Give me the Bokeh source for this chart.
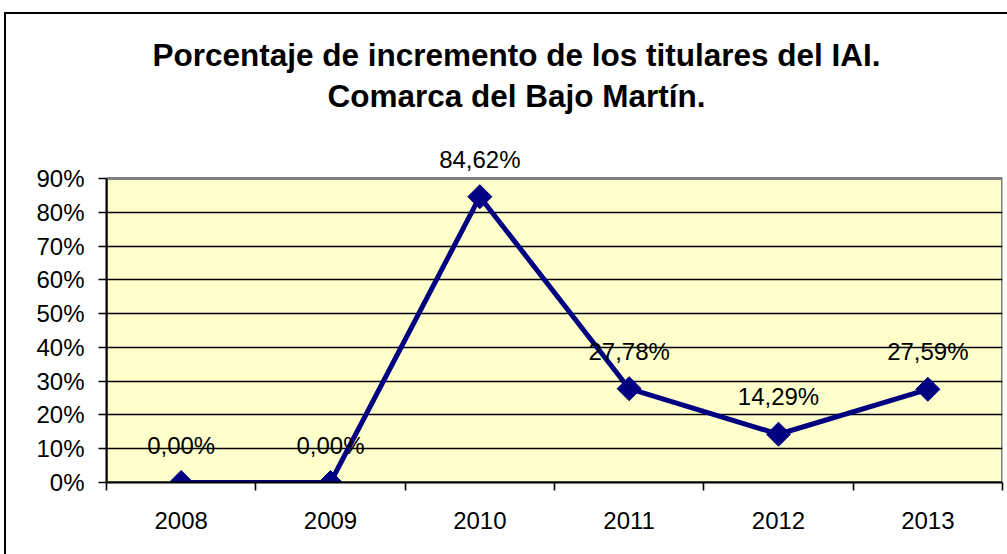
from bokeh.plotting import figure
from bokeh.models import (ColumnDataSource, Range1d, FixedTicker, LabelSet, Label)
from bokeh.core.properties import value
from bokeh.embed import file_html
from bokeh.resources import INLINE

# ---- data ----
years = ["2008", "2009", "2010", "2011", "2012", "2013"]
values = [0.0, 0.0, 0.8462, 0.2778, 0.1429, 0.2759]
y_ticks = [0.0, 0.1, 0.2, 0.3, 0.4, 0.5, 0.6, 0.7, 0.8, 0.9]
y_tick_labels = ["0%", "10%", "20%", "30%", "40%", "50%", "60%", "70%", "80%", "90%"]
title_lines = ["Porcentaje de incremento de los titulares del IAI.",
               "Comarca del Bajo Martín."]

FONT = "Liberation Sans"
NAVY = "#000080"
Y_MAX = y_ticks[-1]

xs = [i + 1 for i in range(len(years))]
labels = [("%.2f%%" % (v * 100)).replace(".", ",") for v in values]
src = ColumnDataSource(dict(x=xs, y=values, lab=labels))

# frame spans the whole upper part; the yellow plot area stops at 90 %
# (the chart box runs past the window's right and bottom edges, as in the original)
p = figure(width=1012, height=550, output_backend="svg", toolbar_location=None,
           x_range=Range1d(0.5, len(years) + 0.5),
           y_range=Range1d(0, Y_MAX * 468 / 304),
           min_border_left=100, min_border_right=16, min_border_top=0,
           min_border_bottom=82)
p.styles = {"margin-left": "6px", "margin-top": "14px",
            "box-shadow": "-2px -2px 0px 0px black"}
p.background_fill_color = "white"
p.border_fill_color = "white"
p.outline_line_color = None

# plot area (yellow, grey top/right edge)
area = p.quad(left=[0.5], right=[len(years) + 0.5], bottom=[0], top=[Y_MAX],
              fill_color="#FFFFCC", line_color="#808080", line_width=3)
area.level = "image"

# grid
p.xgrid.visible = False
p.ygrid.ticker = FixedTicker(ticks=y_ticks[:-1])
p.ygrid.grid_line_color = "black"
p.ygrid.grid_line_width = 1.6

# y axis
ya = p.yaxis[0]
ya.bounds = (0, Y_MAX)
ya.ticker = FixedTicker(ticks=y_ticks)
ya.major_label_overrides = {t: l for t, l in zip(y_ticks, y_tick_labels)}
ya.axis_line_color = "black"
ya.axis_line_width = 2
ya.major_tick_line_color = "black"
ya.major_tick_line_width = 1.6
ya.major_tick_in = 0
ya.major_tick_out = 8
ya.minor_tick_line_color = None
ya.major_label_standoff = 14
ya.major_label_text_font = FONT
ya.major_label_text_font_size = "24px"
ya.major_label_text_color = "black"

# x axis
xa = p.xaxis[0]
xa.ticker = FixedTicker(ticks=xs, minor_ticks=[i + 0.5 for i in range(len(years) + 1)])
xa.major_label_overrides = {x: y for x, y in zip(xs, years)}
xa.axis_line_color = "black"
xa.axis_line_width = 2
xa.major_tick_line_color = None
xa.major_tick_in = 0
xa.major_tick_out = 0
xa.minor_tick_line_color = "black"
xa.minor_tick_line_width = 1.6
xa.minor_tick_in = 0
xa.minor_tick_out = 8
xa.major_label_standoff = 21
xa.major_label_text_font = FONT
xa.major_label_text_font_size = "24px"
xa.major_label_text_color = "black"

# series
p.line("x", "y", source=src, line_color=NAVY, line_width=5)
p.scatter("x", "y", source=src, marker="square", size=17, angle=0.785398,
          fill_color=NAVY, line_color=NAVY)

p.add_layout(LabelSet(x="x", y="y", text="lab", source=src, y_offset=29,
                      text_align="center", text_baseline="alphabetic",
                      text_font=value(FONT), text_font_size=value("24px"),
                      text_color="black"))

# title
for txt, yy in zip(title_lines, [428, 387]):
    p.add_layout(Label(x=410, y=yy, x_units="screen", y_units="screen", text=txt,
                       text_align="center", text_baseline="alphabetic",
                       text_font=FONT, text_font_size="31.5px",
                       text_font_style="bold", text_color="black"))

html = file_html(p, INLINE)
html = html.replace("</head>", "<style>html, body { overflow: hidden; }</style></head>", 1)
open("out.html", "w").write(html)
